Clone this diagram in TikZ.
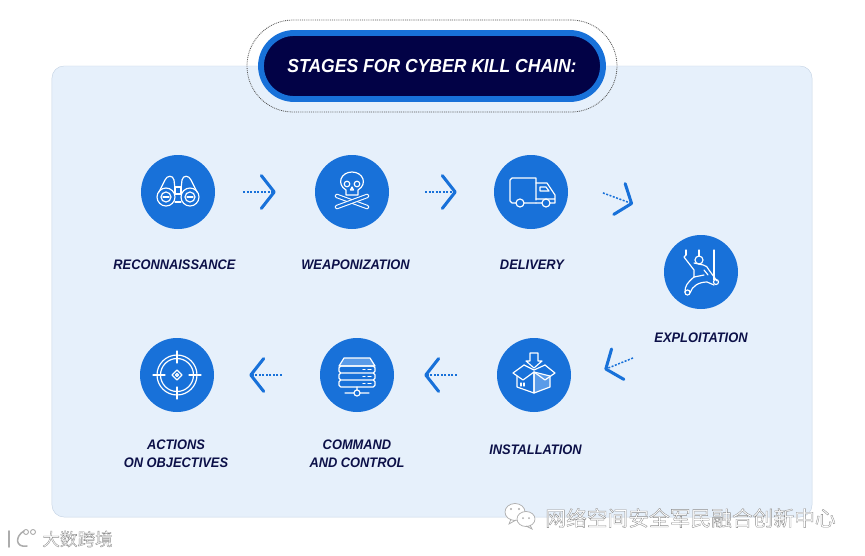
\documentclass[tikz,border=0pt]{standalone}
\usepackage{fontspec}
\setmainfont[FakeStretch=0.93]{Liberation Sans}
\newfontfamily\cjkfont{Noto Sans CJK SC}
\usetikzlibrary{arrows.meta,positioning}
\definecolor{StageBlue}{RGB}{24,113,217}
\definecolor{SoftBlue}{RGB}{90,155,232}
\definecolor{PanelBlue}{RGB}{230,240,251}
\definecolor{PanelEdge}{RGB}{200,214,230}
\definecolor{DeepNavy}{RGB}{2,2,70}
\definecolor{LabelNavy}{RGB}{12,16,72}
\newcommand{\outlined}[1]{\special{pdf:code q 2 Tr 0.3 w 0.55 G 1 g}#1\special{pdf:code Q}}
\tikzset{
  panel/.style={draw=PanelEdge,fill=PanelBlue,rounded corners=0.36cm,
    minimum width=22.8cm,minimum height=13.53cm},
  halo/.style={draw=gray!70!black,rounded corners=1.38cm,line width=0.7pt,
    dash pattern=on 0.8pt off 0.8pt,minimum width=11.1cm,minimum height=2.76cm},
  titlebox/.style={draw=StageBlue,fill=DeepNavy,rounded corners=0.99cm,line width=5pt,
    minimum width=10.26cm,minimum height=1.98cm,text=white,
    font=\fontsize{16.1}{18}\selectfont\bfseries\itshape},
  stage/.style={circle,fill=StageBlue,minimum size=2.22cm,inner sep=0pt},
  stagelabel/.style={text=LabelNavy,align=center,inner sep=0pt,
    font=\fontsize{11.8}{15.4}\selectfont\bfseries\itshape},
  flow/.style={StageBlue,line width=1.3pt,dash pattern=on 1.7pt off 1.3pt,
    -{Straight Barb[length=11pt,width=28pt,line width=2.6pt,round]}},
  icon/.style={white,line width=1pt,line join=round,line cap=round},
  bone/.style={icon,double=StageBlue,double distance=2pt,line width=0.9pt},
  watermark/.style={inner sep=0pt}
}
\begin{document}
\begin{tikzpicture}[x=0.03cm,y=-0.03cm]
\useasboundingbox (0,0) rectangle (865,555);
\node[panel] (board) at (432,291.5) {};
\node[halo] (titlehalo) at (432,66) {};
\node[titlebox] (title) at (432,66) {STAGES FOR CYBER KILL CHAIN:};

% stages, top row then right then bottom row
\node[stage] (recon) at (178,192) {};
\node[stage] (weapon) at (352,192) {};
\node[stage] (delivery) at (531,192) {};
\node[stage] (exploit) at (701,272) {};
\node[stage] (install) at (534,375) {};
\node[stage] (command) at (357,375) {};
\node[stage] (actions) at (177,375) {};

\node[stagelabel] (reconlabel) at (174.5,265) {RECONNAISSANCE};
\node[stagelabel] (weaponlabel) at (355.5,265) {WEAPONIZATION};
\node[stagelabel] (deliverylabel) at (532,265) {DELIVERY};
\node[stagelabel] (exploitlabel) at (701,338) {EXPLOITATION};
\node[stagelabel] (installlabel) at (535.5,450) {INSTALLATION};
\node[stagelabel] (commandlabel) at (357,453.5) {COMMAND\\AND CONTROL};
\node[stagelabel] (actionslabel) at (176,453.5) {ACTIONS\\ON OBJECTIVES};

% connectors
\coordinate (exploitin) at (633,204);
\coordinate (exploitout) at (633,358);
\draw[flow,shorten <=23.9pt,shorten >=33.3pt] (recon) -- (weapon);
\draw[flow,shorten <=30.7pt,shorten >=31.6pt] (weapon) -- (delivery);
\draw[flow,shorten <=33.6pt] (delivery.20) -- (exploitin);
\draw[flow,shorten >=31.4pt] (exploitout) -- (install.-13);
\draw[flow,shorten <=34.1pt,shorten >=25.6pt] (install) -- (command);
\draw[flow,shorten <=32.4pt,shorten >=29.9pt] (command) -- (actions);

% binoculars
\begin{scope}[shift={(recon)},icon]
  \draw (-12,5) circle (9) (-12,5) circle (5) (12,5) circle (9) (12,5) circle (5);
  \draw (-15,5) -- (-9,5) (9,5) -- (15,5);
  \draw (-19,0) -- (-13,-12) .. controls (-11,-17) and (-5,-17) .. (-4,-12) -- (-3,-3);
  \draw (19,0) -- (13,-12) .. controls (11,-17) and (5,-17) .. (4,-12) -- (3,-3);
  \draw (-3,-5) -- (3,-5) (-3,2) -- (3,2) (-3,10) -- (3,10) (-3,-5) -- (-3,1) (3,-5) -- (3,1);
\end{scope}

% skull and bones
\begin{scope}[shift={(weapon)},icon]
  \draw[bone] (-15,4) -- (15,15);
  \draw[bone] (-15,15) -- (15,4);
  \draw[fill=StageBlue] (-6,3) -- (-6,-2) .. controls (-16,-8) and (-11,-20) .. (0,-20)
    .. controls (11,-20) and (16,-8) .. (6,-2) -- (6,3) -- cycle;
  \draw (-5,-8) circle (2.8) (5,-8) circle (2.8);
  \draw (0,-5) -- (-1.5,-2) -- (1.5,-2) -- cycle;
\end{scope}

% truck
\begin{scope}[shift={(delivery)},icon]
  \draw (-7,11) -- (5,11) (5,8) -- (5,-14) -- (-19,-14) -- (-21,-12) -- (-21,9) -- (-19,11) -- (-15,11);
  \draw (5,-9) -- (16,-9) -- (24,3) -- (24,11) -- (19,11) (11,11) -- (5,11) (5,7) -- (24,7);
  \draw (9,-5) -- (15,-5) -- (18,-1) -- (9,-1) -- cycle;
  \draw (-11,11) circle (4) (15,11) circle (4);
\end{scope}

% climber
\begin{scope}[shift={(exploit)},icon]
  \draw (-15,-22) -- (-15,-17) (-2,-22) -- (-2,-16) (13,-22) -- (13,8);
  \draw (-2,-12) circle (4);
  \draw (-15,-17) -- (-17,-15) -- (-7,-2) -- (-7,5);
  \draw (-7,-9) .. controls (0,-7) and (6,-8) .. (8,-2) -- (16,9);
  \draw (-7,5) -- (3,3) (3,-2) -- (7,3);
  \draw (-7,5) .. controls (-14,11) and (-16,14) .. (-16,20) (-11,21) .. controls (-9,14) and (-2,10) .. (6,10) -- (13,13);
  \draw (-13.5,20.5) circle (2.5) (15,10) circle (2.5);
\end{scope}

% open box
\begin{scope}[shift={(install)},icon]
  \draw[fill=SoftBlue] (0,-3) -- (16,1) -- (16,12) -- (0,18) -- cycle;
  \draw (-4,-22) -- (4,-22) -- (4,-14) -- (8,-14) -- (0,-7) -- (-8,-14) -- (-4,-14) -- cycle;
  \draw (-17,1) -- (-17,12) -- (0,18) (0,-3) -- (0,18);
  \draw (-10,-10) -- (-21,-2) -- (-11,5) -- (0,-3) -- (11,5) -- (21,-2) -- (11,-10);
  \draw (-10,-10) -- (0,-5) -- (11,-10);
  \draw (-13,8) -- (-13,11) (-10,8) -- (-10,11);
\end{scope}

% server rack
\begin{scope}[shift={(command)},icon]
  \draw[fill=SoftBlue] (-13,-17) -- (13,-17) -- (18,-9) -- (-18,-9) -- cycle;
  \draw[rounded corners=1.5pt] (-18,-9) rectangle (18,-2) (-18,-2) rectangle (18,5) (-18,5) rectangle (18,12);
  \draw (6,-5.5) -- (8,-5.5) (11,-5.5) -- (14,-5.5) (6,1.5) -- (8,1.5) (11,1.5) -- (14,1.5)
    (6,8.5) -- (8,8.5) (11,8.5) -- (14,8.5);
  \draw (0,12) -- (0,15) (-12,18) -- (-3,18) (3,18) -- (12,18) (0,18) circle (3);
\end{scope}

% crosshair target
\begin{scope}[shift={(actions)},icon]
  \draw (0,0) circle (20) (0,0) circle (16.5);
  \draw (-24,0) -- (-12,0) (12,0) -- (24,0) (0,-24) -- (0,-12) (0,12) -- (0,24);
  \draw (0,-5) -- (5,0) -- (0,5) -- (-5,0) -- cycle;
  \draw (0,0) circle (1.5);
\end{scope}

% watermarks
\node[watermark,font=\cjkfont\fontsize{17.7}{20}\selectfont] (markright) at (690.5,518) {\outlined{网络空间安全军民融合创新中心}};
\node[watermark,font=\cjkfont\fontsize{15}{18}\selectfont] (markleft) at (77.5,539) {\outlined{大数跨境}};
\draw[gray!65,line width=0.6pt,fill=white] (515,512) ellipse (10 and 8.5) (511,519) -- (509,524) -- (516,520);
\draw[gray!65,line width=0.6pt,fill=white] (526,519) ellipse (9 and 7.5) (530,525) -- (532,529) -- (526,526);
\fill[gray!65] (511,509) circle (1.1) (519,509) circle (1.1) (523,518) circle (1) (529,518) circle (1);
\draw[gray!65,line width=1.3pt,line cap=round] (9,531) -- (9,547) (24,531) .. controls (15,536) and (15,548) .. (27,546);
\draw[gray!65,line width=0.8pt] (26,532) circle (2.5) (33,532) circle (2.5);
\end{tikzpicture}
\end{document}
